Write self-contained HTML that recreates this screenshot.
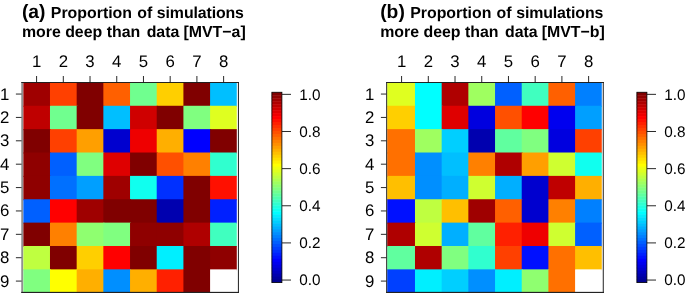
<!DOCTYPE html>
<html><head><meta charset="utf-8"><title>Proportion of simulations more deep than data</title>
<style>
html,body{margin:0;padding:0;background:#fff}
svg text{font-family:"Liberation Sans",Arial,Helvetica,sans-serif;fill:#000;text-rendering:geometricPrecision}
.t{font-weight:bold;font-size:15.9px}
.tl{font-size:19.3px}
.ax{font-size:16.8px}
.cb{font-size:15.3px}
</style></head><body>
<svg width="685" height="293" viewBox="0 0 685 293" style="display:block">
<rect width="685" height="293" fill="#fff"/>
<g transform="translate(0,0)">
<text x="21.9" y="17.9" class="t"><tspan class="tl">(a) </tspan>Proportion <tspan dx="0.8">of</tspan> <tspan dx="0.2" style="letter-spacing:-0.12px">simulations</tspan></text>
<text x="21.9" y="36.8" class="t">more deep than <tspan dx="2">data</tspan> <tspan dx="-0.3">[MVT−a]</tspan></text>
<rect x="23.30" y="82.40" width="27.68" height="24.37" fill="#9F0000"/>
<rect x="49.98" y="82.40" width="27.69" height="24.37" fill="#FF4000"/>
<rect x="76.67" y="82.40" width="27.68" height="24.37" fill="#800000"/>
<rect x="103.35" y="82.40" width="27.69" height="24.37" fill="#FF6000"/>
<rect x="130.04" y="82.40" width="27.69" height="24.37" fill="#70FF8F"/>
<rect x="156.72" y="82.40" width="27.69" height="24.37" fill="#FFCF00"/>
<rect x="183.41" y="82.40" width="27.69" height="24.37" fill="#800000"/>
<rect x="210.09" y="82.40" width="26.69" height="24.37" fill="#00BFFF"/>
<rect x="23.30" y="105.77" width="27.68" height="24.37" fill="#BF0000"/>
<rect x="49.98" y="105.77" width="27.69" height="24.37" fill="#70FF8F"/>
<rect x="76.67" y="105.77" width="27.68" height="24.37" fill="#800000"/>
<rect x="103.35" y="105.77" width="27.69" height="24.37" fill="#00BFFF"/>
<rect x="130.04" y="105.77" width="27.69" height="24.37" fill="#CF0000"/>
<rect x="156.72" y="105.77" width="27.69" height="24.37" fill="#800000"/>
<rect x="183.41" y="105.77" width="27.69" height="24.37" fill="#80FF80"/>
<rect x="210.09" y="105.77" width="26.69" height="24.37" fill="#DFFF20"/>
<rect x="23.30" y="129.14" width="27.68" height="24.37" fill="#800000"/>
<rect x="49.98" y="129.14" width="27.69" height="24.37" fill="#FF4000"/>
<rect x="76.67" y="129.14" width="27.68" height="24.37" fill="#FF9F00"/>
<rect x="103.35" y="129.14" width="27.69" height="24.37" fill="#0000CF"/>
<rect x="130.04" y="129.14" width="27.69" height="24.37" fill="#EF0000"/>
<rect x="156.72" y="129.14" width="27.69" height="24.37" fill="#FFAF00"/>
<rect x="183.41" y="129.14" width="27.69" height="24.37" fill="#0000FF"/>
<rect x="210.09" y="129.14" width="26.69" height="24.37" fill="#800000"/>
<rect x="23.30" y="152.51" width="27.68" height="24.37" fill="#8F0000"/>
<rect x="49.98" y="152.51" width="27.69" height="24.37" fill="#0060FF"/>
<rect x="76.67" y="152.51" width="27.68" height="24.37" fill="#80FF80"/>
<rect x="103.35" y="152.51" width="27.69" height="24.37" fill="#DF0000"/>
<rect x="130.04" y="152.51" width="27.69" height="24.37" fill="#800000"/>
<rect x="156.72" y="152.51" width="27.69" height="24.37" fill="#FF5000"/>
<rect x="183.41" y="152.51" width="27.69" height="24.37" fill="#FF8000"/>
<rect x="210.09" y="152.51" width="26.69" height="24.37" fill="#30FFCF"/>
<rect x="23.30" y="175.88" width="27.68" height="24.37" fill="#8F0000"/>
<rect x="49.98" y="175.88" width="27.69" height="24.37" fill="#0070FF"/>
<rect x="76.67" y="175.88" width="27.68" height="24.37" fill="#009FFF"/>
<rect x="103.35" y="175.88" width="27.69" height="24.37" fill="#9F0000"/>
<rect x="130.04" y="175.88" width="27.69" height="24.37" fill="#10FFEF"/>
<rect x="156.72" y="175.88" width="27.69" height="24.37" fill="#0030FF"/>
<rect x="183.41" y="175.88" width="27.69" height="24.37" fill="#800000"/>
<rect x="210.09" y="175.88" width="26.69" height="24.37" fill="#FF1000"/>
<rect x="23.30" y="199.25" width="27.68" height="24.37" fill="#0060FF"/>
<rect x="49.98" y="199.25" width="27.69" height="24.37" fill="#FF0000"/>
<rect x="76.67" y="199.25" width="27.68" height="24.37" fill="#9F0000"/>
<rect x="103.35" y="199.25" width="27.69" height="24.37" fill="#800000"/>
<rect x="130.04" y="199.25" width="27.69" height="24.37" fill="#800000"/>
<rect x="156.72" y="199.25" width="27.69" height="24.37" fill="#0000AF"/>
<rect x="183.41" y="199.25" width="27.69" height="24.37" fill="#800000"/>
<rect x="210.09" y="199.25" width="26.69" height="24.37" fill="#0020FF"/>
<rect x="23.30" y="222.62" width="27.68" height="24.37" fill="#800000"/>
<rect x="49.98" y="222.62" width="27.69" height="24.37" fill="#FF8000"/>
<rect x="76.67" y="222.62" width="27.68" height="24.37" fill="#8FFF70"/>
<rect x="103.35" y="222.62" width="27.69" height="24.37" fill="#80FF80"/>
<rect x="130.04" y="222.62" width="27.69" height="24.37" fill="#8F0000"/>
<rect x="156.72" y="222.62" width="27.69" height="24.37" fill="#8F0000"/>
<rect x="183.41" y="222.62" width="27.69" height="24.37" fill="#AF0000"/>
<rect x="210.09" y="222.62" width="26.69" height="24.37" fill="#40FFBF"/>
<rect x="23.30" y="245.99" width="27.68" height="24.37" fill="#BFFF40"/>
<rect x="49.98" y="245.99" width="27.69" height="24.37" fill="#800000"/>
<rect x="76.67" y="245.99" width="27.68" height="24.37" fill="#FFCF00"/>
<rect x="103.35" y="245.99" width="27.69" height="24.37" fill="#FF0000"/>
<rect x="130.04" y="245.99" width="27.69" height="24.37" fill="#800000"/>
<rect x="156.72" y="245.99" width="27.69" height="24.37" fill="#00EFFF"/>
<rect x="183.41" y="245.99" width="27.69" height="24.37" fill="#800000"/>
<rect x="210.09" y="245.99" width="26.69" height="24.37" fill="#8F0000"/>
<rect x="23.30" y="269.36" width="27.68" height="23.37" fill="#80FF80"/>
<rect x="49.98" y="269.36" width="27.69" height="23.37" fill="#FFFF00"/>
<rect x="76.67" y="269.36" width="27.68" height="23.37" fill="#FFAF00"/>
<rect x="103.35" y="269.36" width="27.69" height="23.37" fill="#008FFF"/>
<rect x="130.04" y="269.36" width="27.69" height="23.37" fill="#FFAF00"/>
<rect x="156.72" y="269.36" width="27.69" height="23.37" fill="#FF2000"/>
<rect x="183.41" y="269.36" width="27.69" height="23.37" fill="#800000"/>
<rect x="210.09" y="269.36" width="26.69" height="23.37" fill="#FFFFFF"/>
<rect x="21.25" y="82.05" width="1.85" height="211" fill="#909090"/>
<rect x="237.9" y="82.05" width="1.10" height="211" fill="#333"/>
<rect x="21.25" y="82.05" width="217.75" height="0.95" fill="#1a1a1a"/>
<rect x="21.25" y="291.85" width="217.75" height="1.2" fill="#222"/>
<line x1="36.58" y1="76" x2="36.58" y2="82.3" stroke="#111" stroke-width="0.9"/>
<text x="36.58" y="66.5" class="ax" text-anchor="middle">1</text>
<line x1="63.30" y1="76" x2="63.30" y2="82.3" stroke="#111" stroke-width="0.9"/>
<text x="63.30" y="66.5" class="ax" text-anchor="middle">2</text>
<line x1="90.02" y1="76" x2="90.02" y2="82.3" stroke="#111" stroke-width="0.9"/>
<text x="90.02" y="66.5" class="ax" text-anchor="middle">3</text>
<line x1="116.74" y1="76" x2="116.74" y2="82.3" stroke="#111" stroke-width="0.9"/>
<text x="116.74" y="66.5" class="ax" text-anchor="middle">4</text>
<line x1="143.46" y1="76" x2="143.46" y2="82.3" stroke="#111" stroke-width="0.9"/>
<text x="143.46" y="66.5" class="ax" text-anchor="middle">5</text>
<line x1="170.18" y1="76" x2="170.18" y2="82.3" stroke="#111" stroke-width="0.9"/>
<text x="170.18" y="66.5" class="ax" text-anchor="middle">6</text>
<line x1="196.90" y1="76" x2="196.90" y2="82.3" stroke="#111" stroke-width="0.9"/>
<text x="196.90" y="66.5" class="ax" text-anchor="middle">7</text>
<line x1="223.62" y1="76" x2="223.62" y2="82.3" stroke="#111" stroke-width="0.9"/>
<text x="223.62" y="66.5" class="ax" text-anchor="middle">8</text>
<line x1="15.9" y1="94.05" x2="21.55" y2="94.05" stroke="#111" stroke-width="0.9"/>
<text x="0.1" y="99.55" class="ax">1</text>
<line x1="15.9" y1="117.43" x2="21.55" y2="117.43" stroke="#111" stroke-width="0.9"/>
<text x="0.1" y="122.93" class="ax">2</text>
<line x1="15.9" y1="140.81" x2="21.55" y2="140.81" stroke="#111" stroke-width="0.9"/>
<text x="0.1" y="146.31" class="ax">3</text>
<line x1="15.9" y1="164.19" x2="21.55" y2="164.19" stroke="#111" stroke-width="0.9"/>
<text x="0.1" y="169.69" class="ax">4</text>
<line x1="15.9" y1="187.57" x2="21.55" y2="187.57" stroke="#111" stroke-width="0.9"/>
<text x="0.1" y="193.07" class="ax">5</text>
<line x1="15.9" y1="210.95" x2="21.55" y2="210.95" stroke="#111" stroke-width="0.9"/>
<text x="0.1" y="216.45" class="ax">6</text>
<line x1="15.9" y1="234.33" x2="21.55" y2="234.33" stroke="#111" stroke-width="0.9"/>
<text x="0.1" y="239.83" class="ax">7</text>
<line x1="15.9" y1="257.71" x2="21.55" y2="257.71" stroke="#111" stroke-width="0.9"/>
<text x="0.1" y="263.21" class="ax">8</text>
<line x1="15.9" y1="281.09" x2="21.55" y2="281.09" stroke="#111" stroke-width="0.9"/>
<text x="0.1" y="286.59" class="ax">9</text>
<rect x="271.8" y="92.25" width="10.1" height="3.42" fill="#800000"/>
<rect x="271.8" y="95.22" width="10.1" height="3.42" fill="#8F0000"/>
<rect x="271.8" y="98.20" width="10.1" height="3.42" fill="#9F0000"/>
<rect x="271.8" y="101.17" width="10.1" height="3.42" fill="#AF0000"/>
<rect x="271.8" y="104.15" width="10.1" height="3.42" fill="#BF0000"/>
<rect x="271.8" y="107.12" width="10.1" height="3.42" fill="#CF0000"/>
<rect x="271.8" y="110.10" width="10.1" height="3.42" fill="#DF0000"/>
<rect x="271.8" y="113.07" width="10.1" height="3.42" fill="#EF0000"/>
<rect x="271.8" y="116.04" width="10.1" height="3.42" fill="#FF0000"/>
<rect x="271.8" y="119.02" width="10.1" height="3.42" fill="#FF1000"/>
<rect x="271.8" y="121.99" width="10.1" height="3.42" fill="#FF2000"/>
<rect x="271.8" y="124.97" width="10.1" height="3.42" fill="#FF3000"/>
<rect x="271.8" y="127.94" width="10.1" height="3.42" fill="#FF4000"/>
<rect x="271.8" y="130.91" width="10.1" height="3.42" fill="#FF5000"/>
<rect x="271.8" y="133.89" width="10.1" height="3.42" fill="#FF6000"/>
<rect x="271.8" y="136.86" width="10.1" height="3.42" fill="#FF7000"/>
<rect x="271.8" y="139.84" width="10.1" height="3.42" fill="#FF8000"/>
<rect x="271.8" y="142.81" width="10.1" height="3.42" fill="#FF8F00"/>
<rect x="271.8" y="145.79" width="10.1" height="3.42" fill="#FF9F00"/>
<rect x="271.8" y="148.76" width="10.1" height="3.42" fill="#FFAF00"/>
<rect x="271.8" y="151.73" width="10.1" height="3.42" fill="#FFBF00"/>
<rect x="271.8" y="154.71" width="10.1" height="3.42" fill="#FFCF00"/>
<rect x="271.8" y="157.68" width="10.1" height="3.42" fill="#FFDF00"/>
<rect x="271.8" y="160.66" width="10.1" height="3.42" fill="#FFEF00"/>
<rect x="271.8" y="163.63" width="10.1" height="3.42" fill="#FFFF00"/>
<rect x="271.8" y="166.61" width="10.1" height="3.42" fill="#EFFF10"/>
<rect x="271.8" y="169.58" width="10.1" height="3.42" fill="#DFFF20"/>
<rect x="271.8" y="172.55" width="10.1" height="3.42" fill="#CFFF30"/>
<rect x="271.8" y="175.53" width="10.1" height="3.42" fill="#BFFF40"/>
<rect x="271.8" y="178.50" width="10.1" height="3.42" fill="#AFFF50"/>
<rect x="271.8" y="181.48" width="10.1" height="3.42" fill="#9FFF60"/>
<rect x="271.8" y="184.45" width="10.1" height="3.42" fill="#8FFF70"/>
<rect x="271.8" y="187.43" width="10.1" height="3.42" fill="#80FF80"/>
<rect x="271.8" y="190.40" width="10.1" height="3.42" fill="#70FF8F"/>
<rect x="271.8" y="193.37" width="10.1" height="3.42" fill="#60FF9F"/>
<rect x="271.8" y="196.35" width="10.1" height="3.42" fill="#50FFAF"/>
<rect x="271.8" y="199.32" width="10.1" height="3.42" fill="#40FFBF"/>
<rect x="271.8" y="202.30" width="10.1" height="3.42" fill="#30FFCF"/>
<rect x="271.8" y="205.27" width="10.1" height="3.42" fill="#20FFDF"/>
<rect x="271.8" y="208.24" width="10.1" height="3.42" fill="#10FFEF"/>
<rect x="271.8" y="211.22" width="10.1" height="3.42" fill="#00FFFF"/>
<rect x="271.8" y="214.19" width="10.1" height="3.42" fill="#00EFFF"/>
<rect x="271.8" y="217.17" width="10.1" height="3.42" fill="#00DFFF"/>
<rect x="271.8" y="220.14" width="10.1" height="3.42" fill="#00CFFF"/>
<rect x="271.8" y="223.12" width="10.1" height="3.42" fill="#00BFFF"/>
<rect x="271.8" y="226.09" width="10.1" height="3.42" fill="#00AFFF"/>
<rect x="271.8" y="229.06" width="10.1" height="3.42" fill="#009FFF"/>
<rect x="271.8" y="232.04" width="10.1" height="3.42" fill="#008FFF"/>
<rect x="271.8" y="235.01" width="10.1" height="3.42" fill="#0080FF"/>
<rect x="271.8" y="237.99" width="10.1" height="3.42" fill="#0070FF"/>
<rect x="271.8" y="240.96" width="10.1" height="3.42" fill="#0060FF"/>
<rect x="271.8" y="243.94" width="10.1" height="3.42" fill="#0050FF"/>
<rect x="271.8" y="246.91" width="10.1" height="3.42" fill="#0040FF"/>
<rect x="271.8" y="249.88" width="10.1" height="3.42" fill="#0030FF"/>
<rect x="271.8" y="252.86" width="10.1" height="3.42" fill="#0020FF"/>
<rect x="271.8" y="255.83" width="10.1" height="3.42" fill="#0010FF"/>
<rect x="271.8" y="258.81" width="10.1" height="3.42" fill="#0000FF"/>
<rect x="271.8" y="261.78" width="10.1" height="3.42" fill="#0000EF"/>
<rect x="271.8" y="264.75" width="10.1" height="3.42" fill="#0000DF"/>
<rect x="271.8" y="267.73" width="10.1" height="3.42" fill="#0000CF"/>
<rect x="271.8" y="270.70" width="10.1" height="3.42" fill="#0000BF"/>
<rect x="271.8" y="273.68" width="10.1" height="3.42" fill="#0000AF"/>
<rect x="271.8" y="276.65" width="10.1" height="3.42" fill="#00009F"/>
<rect x="271.8" y="279.63" width="10.1" height="2.97" fill="#00008F"/>
<rect x="271.9" y="92.25" width="10.0" height="190.35" fill="none" stroke="#000" stroke-width="0.8"/>
<line x1="282" y1="280.05" x2="291" y2="280.05" stroke="#111" stroke-width="0.9"/>
<text x="299.3" y="285.35" class="cb">0.0</text>
<line x1="282" y1="242.91" x2="291" y2="242.91" stroke="#111" stroke-width="0.9"/>
<text x="299.3" y="248.21" class="cb">0.2</text>
<line x1="282" y1="205.77" x2="291" y2="205.77" stroke="#111" stroke-width="0.9"/>
<text x="299.3" y="211.07" class="cb">0.4</text>
<line x1="282" y1="168.63" x2="291" y2="168.63" stroke="#111" stroke-width="0.9"/>
<text x="299.3" y="173.93" class="cb">0.6</text>
<line x1="282" y1="131.49" x2="291" y2="131.49" stroke="#111" stroke-width="0.9"/>
<text x="299.3" y="136.79" class="cb">0.8</text>
<line x1="282" y1="94.35" x2="291" y2="94.35" stroke="#111" stroke-width="0.9"/>
<text x="299.3" y="99.65" class="cb">1.0</text>
</g>
<g transform="translate(365,0)">
<text x="15.2" y="17.9" class="t"><tspan class="tl">(b) </tspan>Proportion <tspan dx="0.8">of</tspan> <tspan dx="0.2" style="letter-spacing:-0.12px">simulations</tspan></text>
<text x="15.2" y="36.8" class="t">more deep than <tspan dx="2">data</tspan> <tspan dx="-0.3">[MVT−b]</tspan></text>
<rect x="22.20" y="82.40" width="28.79" height="24.37" fill="#DFFF20"/>
<rect x="49.98" y="82.40" width="27.69" height="24.37" fill="#00FFFF"/>
<rect x="76.67" y="82.40" width="27.68" height="24.37" fill="#AF0000"/>
<rect x="103.35" y="82.40" width="27.69" height="24.37" fill="#9FFF60"/>
<rect x="130.04" y="82.40" width="27.69" height="24.37" fill="#0060FF"/>
<rect x="156.72" y="82.40" width="27.69" height="24.37" fill="#40FFBF"/>
<rect x="183.41" y="82.40" width="27.69" height="24.37" fill="#FF6000"/>
<rect x="210.09" y="82.40" width="26.69" height="24.37" fill="#0080FF"/>
<rect x="22.20" y="105.77" width="28.79" height="24.37" fill="#FFCF00"/>
<rect x="49.98" y="105.77" width="27.69" height="24.37" fill="#00FFFF"/>
<rect x="76.67" y="105.77" width="27.68" height="24.37" fill="#DF0000"/>
<rect x="103.35" y="105.77" width="27.69" height="24.37" fill="#0000DF"/>
<rect x="130.04" y="105.77" width="27.69" height="24.37" fill="#FF5000"/>
<rect x="156.72" y="105.77" width="27.69" height="24.37" fill="#FF0000"/>
<rect x="183.41" y="105.77" width="27.69" height="24.37" fill="#0000EF"/>
<rect x="210.09" y="105.77" width="26.69" height="24.37" fill="#009FFF"/>
<rect x="22.20" y="129.14" width="28.79" height="24.37" fill="#FF7000"/>
<rect x="49.98" y="129.14" width="27.69" height="24.37" fill="#9FFF60"/>
<rect x="76.67" y="129.14" width="27.68" height="24.37" fill="#00CFFF"/>
<rect x="103.35" y="129.14" width="27.69" height="24.37" fill="#0000AF"/>
<rect x="130.04" y="129.14" width="27.69" height="24.37" fill="#60FF9F"/>
<rect x="156.72" y="129.14" width="27.69" height="24.37" fill="#80FF80"/>
<rect x="183.41" y="129.14" width="27.69" height="24.37" fill="#0000DF"/>
<rect x="210.09" y="129.14" width="26.69" height="24.37" fill="#FF4000"/>
<rect x="22.20" y="152.51" width="28.79" height="24.37" fill="#FF7000"/>
<rect x="49.98" y="152.51" width="27.69" height="24.37" fill="#008FFF"/>
<rect x="76.67" y="152.51" width="27.68" height="24.37" fill="#00BFFF"/>
<rect x="103.35" y="152.51" width="27.69" height="24.37" fill="#FF8000"/>
<rect x="130.04" y="152.51" width="27.69" height="24.37" fill="#AF0000"/>
<rect x="156.72" y="152.51" width="27.69" height="24.37" fill="#FF9F00"/>
<rect x="183.41" y="152.51" width="27.69" height="24.37" fill="#CFFF30"/>
<rect x="210.09" y="152.51" width="26.69" height="24.37" fill="#10FFEF"/>
<rect x="22.20" y="175.88" width="28.79" height="24.37" fill="#FFBF00"/>
<rect x="49.98" y="175.88" width="27.69" height="24.37" fill="#008FFF"/>
<rect x="76.67" y="175.88" width="27.68" height="24.37" fill="#00AFFF"/>
<rect x="103.35" y="175.88" width="27.69" height="24.37" fill="#CFFF30"/>
<rect x="130.04" y="175.88" width="27.69" height="24.37" fill="#00AFFF"/>
<rect x="156.72" y="175.88" width="27.69" height="24.37" fill="#0000CF"/>
<rect x="183.41" y="175.88" width="27.69" height="24.37" fill="#BF0000"/>
<rect x="210.09" y="175.88" width="26.69" height="24.37" fill="#FFAF00"/>
<rect x="22.20" y="199.25" width="28.79" height="24.37" fill="#0010FF"/>
<rect x="49.98" y="199.25" width="27.69" height="24.37" fill="#BFFF40"/>
<rect x="76.67" y="199.25" width="27.68" height="24.37" fill="#FFBF00"/>
<rect x="103.35" y="199.25" width="27.69" height="24.37" fill="#9F0000"/>
<rect x="130.04" y="199.25" width="27.69" height="24.37" fill="#FF6000"/>
<rect x="156.72" y="199.25" width="27.69" height="24.37" fill="#0000CF"/>
<rect x="183.41" y="199.25" width="27.69" height="24.37" fill="#FF8000"/>
<rect x="210.09" y="199.25" width="26.69" height="24.37" fill="#0080FF"/>
<rect x="22.20" y="222.62" width="28.79" height="24.37" fill="#AF0000"/>
<rect x="49.98" y="222.62" width="27.69" height="24.37" fill="#CFFF30"/>
<rect x="76.67" y="222.62" width="27.68" height="24.37" fill="#00AFFF"/>
<rect x="103.35" y="222.62" width="27.69" height="24.37" fill="#60FF9F"/>
<rect x="130.04" y="222.62" width="27.69" height="24.37" fill="#FF2000"/>
<rect x="156.72" y="222.62" width="27.69" height="24.37" fill="#EF0000"/>
<rect x="183.41" y="222.62" width="27.69" height="24.37" fill="#CFFF30"/>
<rect x="210.09" y="222.62" width="26.69" height="24.37" fill="#0060FF"/>
<rect x="22.20" y="245.99" width="28.79" height="24.37" fill="#60FF9F"/>
<rect x="49.98" y="245.99" width="27.69" height="24.37" fill="#AF0000"/>
<rect x="76.67" y="245.99" width="27.68" height="24.37" fill="#80FF80"/>
<rect x="103.35" y="245.99" width="27.69" height="24.37" fill="#30FFCF"/>
<rect x="130.04" y="245.99" width="27.69" height="24.37" fill="#FF4000"/>
<rect x="156.72" y="245.99" width="27.69" height="24.37" fill="#0010FF"/>
<rect x="183.41" y="245.99" width="27.69" height="24.37" fill="#FF7000"/>
<rect x="210.09" y="245.99" width="26.69" height="24.37" fill="#FFBF00"/>
<rect x="22.20" y="269.36" width="28.79" height="23.37" fill="#0040FF"/>
<rect x="49.98" y="269.36" width="27.69" height="23.37" fill="#00EFFF"/>
<rect x="76.67" y="269.36" width="27.68" height="23.37" fill="#00CFFF"/>
<rect x="103.35" y="269.36" width="27.69" height="23.37" fill="#008FFF"/>
<rect x="130.04" y="269.36" width="27.69" height="23.37" fill="#00EFFF"/>
<rect x="156.72" y="269.36" width="27.69" height="23.37" fill="#8FFF70"/>
<rect x="183.41" y="269.36" width="27.69" height="23.37" fill="#FF7000"/>
<rect x="210.09" y="269.36" width="26.69" height="23.37" fill="#FFFFFF"/>
<rect x="21.1" y="82.05" width="1.05" height="211" fill="#333"/>
<rect x="237.7" y="82.05" width="1.30" height="211" fill="#555"/>
<rect x="21.1" y="82.05" width="217.90" height="0.95" fill="#1a1a1a"/>
<rect x="21.1" y="291.85" width="217.90" height="1.2" fill="#222"/>
<line x1="36.58" y1="76" x2="36.58" y2="82.3" stroke="#111" stroke-width="0.9"/>
<text x="36.58" y="66.5" class="ax" text-anchor="middle">1</text>
<line x1="63.30" y1="76" x2="63.30" y2="82.3" stroke="#111" stroke-width="0.9"/>
<text x="63.30" y="66.5" class="ax" text-anchor="middle">2</text>
<line x1="90.02" y1="76" x2="90.02" y2="82.3" stroke="#111" stroke-width="0.9"/>
<text x="90.02" y="66.5" class="ax" text-anchor="middle">3</text>
<line x1="116.74" y1="76" x2="116.74" y2="82.3" stroke="#111" stroke-width="0.9"/>
<text x="116.74" y="66.5" class="ax" text-anchor="middle">4</text>
<line x1="143.46" y1="76" x2="143.46" y2="82.3" stroke="#111" stroke-width="0.9"/>
<text x="143.46" y="66.5" class="ax" text-anchor="middle">5</text>
<line x1="170.18" y1="76" x2="170.18" y2="82.3" stroke="#111" stroke-width="0.9"/>
<text x="170.18" y="66.5" class="ax" text-anchor="middle">6</text>
<line x1="196.90" y1="76" x2="196.90" y2="82.3" stroke="#111" stroke-width="0.9"/>
<text x="196.90" y="66.5" class="ax" text-anchor="middle">7</text>
<line x1="223.62" y1="76" x2="223.62" y2="82.3" stroke="#111" stroke-width="0.9"/>
<text x="223.62" y="66.5" class="ax" text-anchor="middle">8</text>
<line x1="15.9" y1="94.05" x2="21.400000000000002" y2="94.05" stroke="#111" stroke-width="0.9"/>
<text x="0.1" y="99.55" class="ax">1</text>
<line x1="15.9" y1="117.43" x2="21.400000000000002" y2="117.43" stroke="#111" stroke-width="0.9"/>
<text x="0.1" y="122.93" class="ax">2</text>
<line x1="15.9" y1="140.81" x2="21.400000000000002" y2="140.81" stroke="#111" stroke-width="0.9"/>
<text x="0.1" y="146.31" class="ax">3</text>
<line x1="15.9" y1="164.19" x2="21.400000000000002" y2="164.19" stroke="#111" stroke-width="0.9"/>
<text x="0.1" y="169.69" class="ax">4</text>
<line x1="15.9" y1="187.57" x2="21.400000000000002" y2="187.57" stroke="#111" stroke-width="0.9"/>
<text x="0.1" y="193.07" class="ax">5</text>
<line x1="15.9" y1="210.95" x2="21.400000000000002" y2="210.95" stroke="#111" stroke-width="0.9"/>
<text x="0.1" y="216.45" class="ax">6</text>
<line x1="15.9" y1="234.33" x2="21.400000000000002" y2="234.33" stroke="#111" stroke-width="0.9"/>
<text x="0.1" y="239.83" class="ax">7</text>
<line x1="15.9" y1="257.71" x2="21.400000000000002" y2="257.71" stroke="#111" stroke-width="0.9"/>
<text x="0.1" y="263.21" class="ax">8</text>
<line x1="15.9" y1="281.09" x2="21.400000000000002" y2="281.09" stroke="#111" stroke-width="0.9"/>
<text x="0.1" y="286.59" class="ax">9</text>
<rect x="271.8" y="92.25" width="10.1" height="3.42" fill="#800000"/>
<rect x="271.8" y="95.22" width="10.1" height="3.42" fill="#8F0000"/>
<rect x="271.8" y="98.20" width="10.1" height="3.42" fill="#9F0000"/>
<rect x="271.8" y="101.17" width="10.1" height="3.42" fill="#AF0000"/>
<rect x="271.8" y="104.15" width="10.1" height="3.42" fill="#BF0000"/>
<rect x="271.8" y="107.12" width="10.1" height="3.42" fill="#CF0000"/>
<rect x="271.8" y="110.10" width="10.1" height="3.42" fill="#DF0000"/>
<rect x="271.8" y="113.07" width="10.1" height="3.42" fill="#EF0000"/>
<rect x="271.8" y="116.04" width="10.1" height="3.42" fill="#FF0000"/>
<rect x="271.8" y="119.02" width="10.1" height="3.42" fill="#FF1000"/>
<rect x="271.8" y="121.99" width="10.1" height="3.42" fill="#FF2000"/>
<rect x="271.8" y="124.97" width="10.1" height="3.42" fill="#FF3000"/>
<rect x="271.8" y="127.94" width="10.1" height="3.42" fill="#FF4000"/>
<rect x="271.8" y="130.91" width="10.1" height="3.42" fill="#FF5000"/>
<rect x="271.8" y="133.89" width="10.1" height="3.42" fill="#FF6000"/>
<rect x="271.8" y="136.86" width="10.1" height="3.42" fill="#FF7000"/>
<rect x="271.8" y="139.84" width="10.1" height="3.42" fill="#FF8000"/>
<rect x="271.8" y="142.81" width="10.1" height="3.42" fill="#FF8F00"/>
<rect x="271.8" y="145.79" width="10.1" height="3.42" fill="#FF9F00"/>
<rect x="271.8" y="148.76" width="10.1" height="3.42" fill="#FFAF00"/>
<rect x="271.8" y="151.73" width="10.1" height="3.42" fill="#FFBF00"/>
<rect x="271.8" y="154.71" width="10.1" height="3.42" fill="#FFCF00"/>
<rect x="271.8" y="157.68" width="10.1" height="3.42" fill="#FFDF00"/>
<rect x="271.8" y="160.66" width="10.1" height="3.42" fill="#FFEF00"/>
<rect x="271.8" y="163.63" width="10.1" height="3.42" fill="#FFFF00"/>
<rect x="271.8" y="166.61" width="10.1" height="3.42" fill="#EFFF10"/>
<rect x="271.8" y="169.58" width="10.1" height="3.42" fill="#DFFF20"/>
<rect x="271.8" y="172.55" width="10.1" height="3.42" fill="#CFFF30"/>
<rect x="271.8" y="175.53" width="10.1" height="3.42" fill="#BFFF40"/>
<rect x="271.8" y="178.50" width="10.1" height="3.42" fill="#AFFF50"/>
<rect x="271.8" y="181.48" width="10.1" height="3.42" fill="#9FFF60"/>
<rect x="271.8" y="184.45" width="10.1" height="3.42" fill="#8FFF70"/>
<rect x="271.8" y="187.43" width="10.1" height="3.42" fill="#80FF80"/>
<rect x="271.8" y="190.40" width="10.1" height="3.42" fill="#70FF8F"/>
<rect x="271.8" y="193.37" width="10.1" height="3.42" fill="#60FF9F"/>
<rect x="271.8" y="196.35" width="10.1" height="3.42" fill="#50FFAF"/>
<rect x="271.8" y="199.32" width="10.1" height="3.42" fill="#40FFBF"/>
<rect x="271.8" y="202.30" width="10.1" height="3.42" fill="#30FFCF"/>
<rect x="271.8" y="205.27" width="10.1" height="3.42" fill="#20FFDF"/>
<rect x="271.8" y="208.24" width="10.1" height="3.42" fill="#10FFEF"/>
<rect x="271.8" y="211.22" width="10.1" height="3.42" fill="#00FFFF"/>
<rect x="271.8" y="214.19" width="10.1" height="3.42" fill="#00EFFF"/>
<rect x="271.8" y="217.17" width="10.1" height="3.42" fill="#00DFFF"/>
<rect x="271.8" y="220.14" width="10.1" height="3.42" fill="#00CFFF"/>
<rect x="271.8" y="223.12" width="10.1" height="3.42" fill="#00BFFF"/>
<rect x="271.8" y="226.09" width="10.1" height="3.42" fill="#00AFFF"/>
<rect x="271.8" y="229.06" width="10.1" height="3.42" fill="#009FFF"/>
<rect x="271.8" y="232.04" width="10.1" height="3.42" fill="#008FFF"/>
<rect x="271.8" y="235.01" width="10.1" height="3.42" fill="#0080FF"/>
<rect x="271.8" y="237.99" width="10.1" height="3.42" fill="#0070FF"/>
<rect x="271.8" y="240.96" width="10.1" height="3.42" fill="#0060FF"/>
<rect x="271.8" y="243.94" width="10.1" height="3.42" fill="#0050FF"/>
<rect x="271.8" y="246.91" width="10.1" height="3.42" fill="#0040FF"/>
<rect x="271.8" y="249.88" width="10.1" height="3.42" fill="#0030FF"/>
<rect x="271.8" y="252.86" width="10.1" height="3.42" fill="#0020FF"/>
<rect x="271.8" y="255.83" width="10.1" height="3.42" fill="#0010FF"/>
<rect x="271.8" y="258.81" width="10.1" height="3.42" fill="#0000FF"/>
<rect x="271.8" y="261.78" width="10.1" height="3.42" fill="#0000EF"/>
<rect x="271.8" y="264.75" width="10.1" height="3.42" fill="#0000DF"/>
<rect x="271.8" y="267.73" width="10.1" height="3.42" fill="#0000CF"/>
<rect x="271.8" y="270.70" width="10.1" height="3.42" fill="#0000BF"/>
<rect x="271.8" y="273.68" width="10.1" height="3.42" fill="#0000AF"/>
<rect x="271.8" y="276.65" width="10.1" height="3.42" fill="#00009F"/>
<rect x="271.8" y="279.63" width="10.1" height="2.97" fill="#00008F"/>
<rect x="271.9" y="92.25" width="10.0" height="190.35" fill="none" stroke="#000" stroke-width="0.8"/>
<line x1="282" y1="280.05" x2="291" y2="280.05" stroke="#111" stroke-width="0.9"/>
<text x="299.3" y="285.35" class="cb">0.0</text>
<line x1="282" y1="242.91" x2="291" y2="242.91" stroke="#111" stroke-width="0.9"/>
<text x="299.3" y="248.21" class="cb">0.2</text>
<line x1="282" y1="205.77" x2="291" y2="205.77" stroke="#111" stroke-width="0.9"/>
<text x="299.3" y="211.07" class="cb">0.4</text>
<line x1="282" y1="168.63" x2="291" y2="168.63" stroke="#111" stroke-width="0.9"/>
<text x="299.3" y="173.93" class="cb">0.6</text>
<line x1="282" y1="131.49" x2="291" y2="131.49" stroke="#111" stroke-width="0.9"/>
<text x="299.3" y="136.79" class="cb">0.8</text>
<line x1="282" y1="94.35" x2="291" y2="94.35" stroke="#111" stroke-width="0.9"/>
<text x="299.3" y="99.65" class="cb">1.0</text>
</g>
</svg>
</body></html>
